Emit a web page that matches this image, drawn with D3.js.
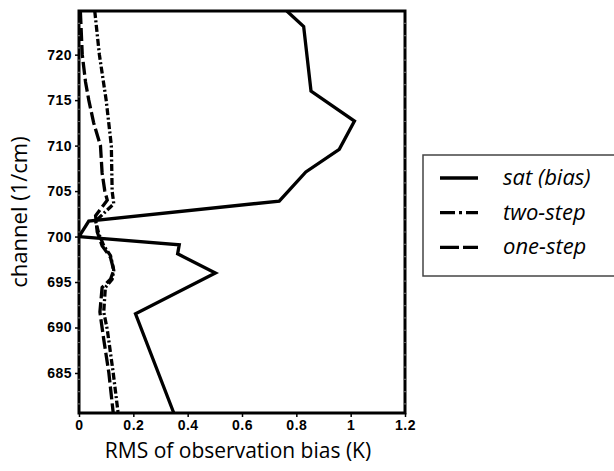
<!DOCTYPE html>
<html lang="en">
<head>
    <meta charset="UTF-8">
    <title>RMS of observation bias</title>
    <style>
        body,html{
            margin:0;
            padding:0;
            border:0;
            background:#fff;
        }
        .tick text{
            font-family:"Liberation Sans",Arial,sans-serif;
            font-weight:bold;
            font-size:14px;
            letter-spacing:0.5px;
        }
        .lbl{
            font-family:"Open Sans","Noto Sans",sans-serif;
            font-size:21px;
        }
    </style>
</head>
<body>
    <svg id="svg" width="614" height="471"></svg>
    <script type="text/javascript" src="https://cdnjs.cloudflare.com/ajax/libs/d3/7.8.5/d3.min.js"></script>
    <script type="text/javascript">
        // values
        var satChannel = [724.8, 723.1, 716.0, 712.7, 709.6, 707.1, 703.9, 701.7, 700.0, 699.1, 698.1, 696.0, 691.5, 680.6];
        var satBias    = [0.765, 0.827, 0.854, 1.014, 0.958, 0.835, 0.737, 0.036, 0.0, 0.369, 0.363, 0.502, 0.208, 0.349];

        var twoChannel = [724.8, 720, 715, 710, 705, 703.6, 701.7, 700.3, 699.0, 697.9, 696.3, 695.3, 694.4, 691.7, 689.8, 685, 680.6];
        var twoStep    = [0.058, 0.075, 0.100, 0.119, 0.122, 0.128, 0.061, 0.073, 0.091, 0.116, 0.128, 0.122, 0.097, 0.091, 0.104, 0.126, 0.144];

        var oneChannel = [724.8, 720, 717, 715, 712.5, 710, 707, 705, 704, 702.3, 700.5, 699.0, 697.7, 696.3, 695.3, 694.4, 691.7, 688.7, 685, 680.6];
        var oneStep    = [0.005, 0.012, 0.024, 0.036, 0.054, 0.079, 0.085, 0.095, 0.104, 0.061, 0.067, 0.085, 0.116, 0.128, 0.116, 0.085, 0.077, 0.091, 0.110, 0.126];

        var xTicks = [0, 0.2, 0.4, 0.6, 0.8, 1, 1.2];
        var yTicks = [685, 690, 695, 700, 705, 710, 715, 720];

        var series = [
            {name:"sat (bias)", ch:satChannel, v:satBias, dash:null},
            {name:"two-step", ch:twoChannel, v:twoStep, dash:"7,2.5,2,2.5"},
            {name:"one-step", ch:oneChannel, v:oneStep, dash:"13,4"}
        ];

        var L = 79, R = 405, T = 11, B = 413;
        var x = d3.scaleLinear().domain([0, 1.2]).range([L, R]);
        var y = d3.scaleLinear().domain([680.6, 724.8]).range([B, T]);

        var svg = d3.select("#svg");

        svg.append("clipPath").attr("id","clip")
            .append("rect").attr("x",L).attr("y",T).attr("width",R-L).attr("height",B-T);

        var line = d3.line()
            .x(function(d){return x(d[1]);})
            .y(function(d){return y(d[0]);});

        //data lines
        svg.append("g").attr("clip-path","url(#clip)")
            .selectAll("path").data(series).enter().append("path")
            .attr("d", function(s){ return line(d3.zip(s.ch, s.v)); })
            .attr("fill","none")
            .attr("stroke","#000")
            .attr("stroke-width",3.3)
            .attr("stroke-linejoin","miter")
            .attr("stroke-dasharray", function(s){return s.dash;});

        //axes
        var xAxis = svg.append("g").attr("transform","translate(0,"+B+")")
            .call(d3.axisBottom(x).tickValues(xTicks).tickSize(4).tickPadding(3)
                .tickFormat(function(d){return d3.format("")(d);}));
        var yAxis = svg.append("g").attr("transform","translate("+L+",0)")
            .call(d3.axisLeft(y).tickValues(yTicks).tickSize(4).tickPadding(3));
        [xAxis, yAxis].forEach(function(a){
            a.select(".domain").remove();
            a.selectAll(".tick line").attr("stroke","#000").attr("stroke-width",1.5);
            a.selectAll(".tick text").attr("fill","#000");
        });

        //frame
        svg.append("rect")
            .attr("x",L).attr("y",T).attr("width",R-L).attr("height",B-T)
            .attr("fill","none").attr("stroke","#000").attr("stroke-width",3);

        //faint minor marks on the side axes
        var minor = d3.range(723.45, 680.6, -1.35);
        ["L","R"].forEach(function(side){
            svg.append("g").selectAll("line").data(minor).enter().append("line")
                .attr("x1", side==="L" ? L : R).attr("x2", side==="L" ? L : R)
                .attr("y1", function(d){return y(d)-0.6;})
                .attr("y2", function(d){return y(d)+0.6;})
                .attr("stroke","#999").attr("stroke-width",1.2);
        });

        //axis titles
        svg.append("text").attr("class","lbl")
            .attr("x", (L+R)/2 - 4).attr("y", 458)
            .attr("text-anchor","middle")
            .text("RMS of observation bias (K)");
        svg.append("text").attr("class","lbl")
            .style("font-size","22px")
            .attr("transform","translate(27,"+((T+B)/2)+") rotate(-90)")
            .attr("text-anchor","middle")
            .text("channel (1/cm)");

        //legend
        var lg = svg.append("g");
        lg.append("rect")
            .attr("x",423).attr("y",155).attr("width",200).attr("height",121)
            .attr("fill","#fff").attr("stroke","#444").attr("stroke-width",1.5);
        var items = lg.selectAll("g.item").data(series).enter().append("g")
            .attr("class","item")
            .attr("transform", function(d,i){return "translate(0,"+(178 + i*34.7)+")";});
        items.append("line")
            .attr("x1",440).attr("x2",478).attr("y1",0).attr("y2",0)
            .attr("stroke","#000").attr("stroke-width",3.3)
            .attr("stroke-dasharray", function(s,i){return i===0 ? null : (i===1 ? "15,4,3,4" : "19,4");});
        items.append("text").attr("class","lbl")
            .style("font-size","22px")
            .attr("x",503).attr("y",7)
            .attr("font-style","italic")
            .text(function(s){return s.name;});
    </script>
</body>
</html>
